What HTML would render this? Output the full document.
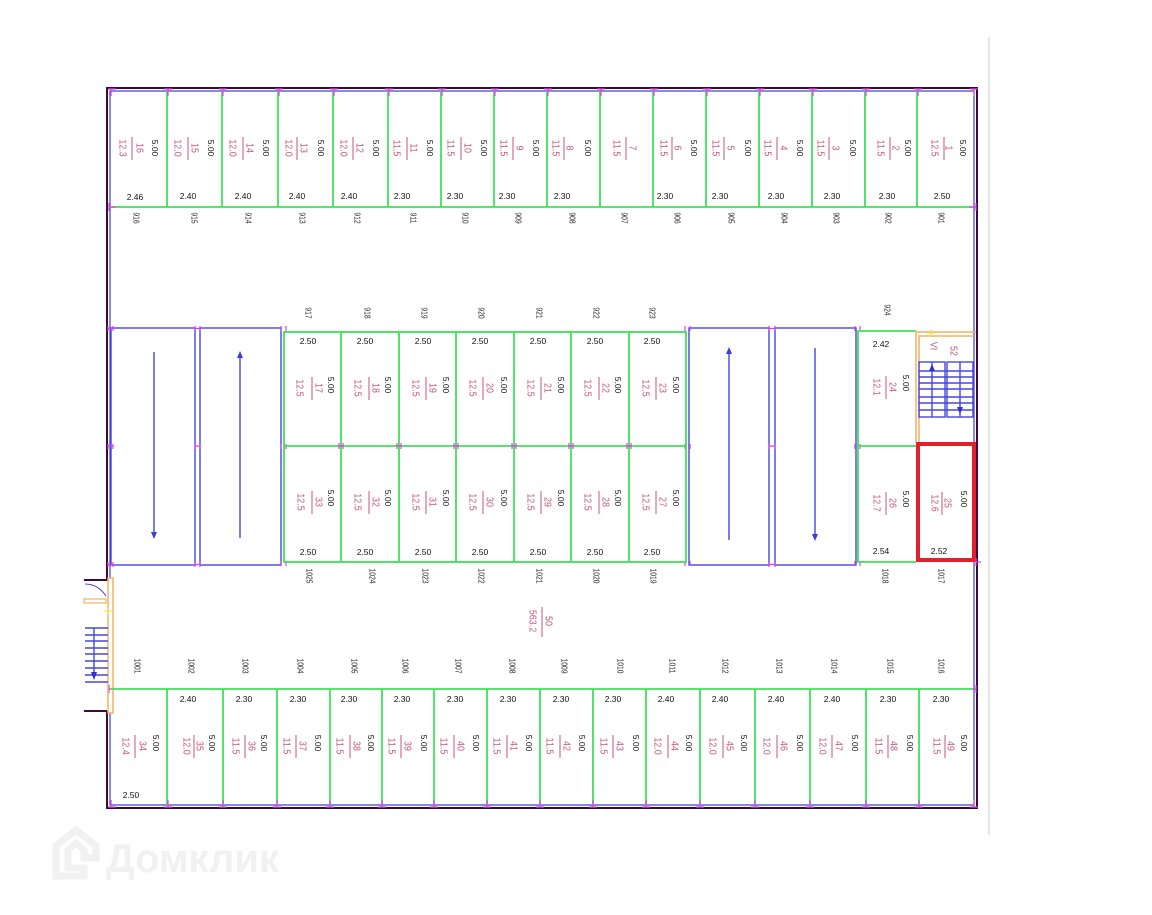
<!DOCTYPE html>
<html><head><meta charset="utf-8"><style>
html,body{margin:0;padding:0;background:#fff;}
svg{display:block;}
.r{fill:#c4557a;font-family:"Liberation Sans",sans-serif;font-size:10.5px;text-anchor:middle;dominant-baseline:central;}
.k{fill:#111;font-family:"Liberation Sans",sans-serif;font-size:8.5px;text-anchor:middle;dominant-baseline:central;}
.n{fill:#222;font-family:"Liberation Sans",sans-serif;font-size:8px;text-anchor:middle;dominant-baseline:central;}
.g{stroke:#3ee25a;stroke-width:1.8;fill:none;}
.b{stroke:#4646dc;stroke-width:1.4;fill:none;}
.m{stroke:#e040e0;stroke-width:1.2;fill:none;}
.o{stroke:#f2b060;stroke-width:1.5;fill:none;}
.rb{stroke:#c4557a;stroke-width:1;}
.wm{fill:#f1f1f1;font-family:"Liberation Sans",sans-serif;font-size:40px;font-weight:bold;}
</style></head><body>
<svg width="1152" height="915" viewBox="0 0 1152 915" xmlns="http://www.w3.org/2000/svg">
<rect x="0" y="0" width="1152" height="915" fill="#fff"/>

<!-- watermark -->
<path d="M56 876 V846 L76 830 L96 846 V858 H84 V850 L76 843 L68 850 V868 H84 V876 Z" fill="none" stroke="#f1f1f1" stroke-width="7"/>
<text class="wm" x="106" y="872">Домклик</text>

<!-- right gray line -->
<line x1="989" y1="37" x2="989" y2="835" stroke="#dcdcdc" stroke-width="1.5"/>

<!-- outer walls -->
<path d="M107 579 V88 H977 V808 H107 V711" fill="none" stroke="#3a0a3a" stroke-width="2"/>
<path d="M110 578 V91 H974 V805 H110 V713" fill="none" stroke="#4040d8" stroke-width="1.2"/>

<!-- top row -->
<line class="g" x1="111" y1="207" x2="973" y2="207"/>
<g class="g">
<line x1="167" y1="91" x2="167" y2="207"/><line x1="222" y1="91" x2="222" y2="207"/><line x1="278" y1="91" x2="278" y2="207"/><line x1="333" y1="91" x2="333" y2="207"/><line x1="388" y1="91" x2="388" y2="207"/><line x1="441" y1="91" x2="441" y2="207"/><line x1="494" y1="91" x2="494" y2="207"/><line x1="547" y1="91" x2="547" y2="207"/><line x1="600" y1="91" x2="600" y2="207"/><line x1="653" y1="91" x2="653" y2="207"/><line x1="706" y1="91" x2="706" y2="207"/><line x1="759" y1="91" x2="759" y2="207"/><line x1="812" y1="91" x2="812" y2="207"/><line x1="865" y1="91" x2="865" y2="207"/><line x1="917" y1="91" x2="917" y2="207"/>
</g>
<g class="m">
<path d="M108 89 H116 M111 89 V96"/><path d="M164 89 H172 M168 89 V96"/><path d="M219 89 H227 M223 89 V96"/><path d="M275 89 H283 M279 89 V96"/><path d="M330 89 H338 M334 89 V96"/><path d="M385 89 H393 M389 89 V96"/><path d="M438 89 H446 M442 89 V96"/><path d="M491 89 H499 M495 89 V96"/><path d="M544 89 H552 M548 89 V96"/><path d="M597 89 H605 M601 89 V96"/><path d="M650 89 H658 M654 89 V96"/><path d="M703 89 H711 M707 89 V96"/><path d="M756 89 H764 M760 89 V96"/><path d="M809 89 H817 M813 89 V96"/><path d="M862 89 H870 M866 89 V96"/><path d="M914 89 H922 M918 89 V96"/><path d="M970 89 H978 M974 89 V96"/>
<path d="M109 203 V211 M109 207 H116"/><path d="M976 203 V211 M976 207 H969"/>
</g>

<!-- top row labels -->
<g>
<text class="r" transform="translate(122,148) rotate(90) scale(.85,1)">12.3</text><line class="rb" x1="132" y1="137" x2="132" y2="160"/><text class="r" transform="translate(139,148) rotate(90) scale(.85,1)">16</text><text class="k" transform="translate(155,148) rotate(90)">5.00</text>
<text class="r" transform="translate(177,148) rotate(90) scale(.85,1)">12.0</text><line class="rb" x1="188" y1="137" x2="188" y2="160"/><text class="r" transform="translate(194,148) rotate(90) scale(.85,1)">15</text><text class="k" transform="translate(211,148) rotate(90)">5.00</text>
<text class="r" transform="translate(232,148) rotate(90) scale(.85,1)">12.0</text><line class="rb" x1="243" y1="137" x2="243" y2="160"/><text class="r" transform="translate(249,148) rotate(90) scale(.85,1)">14</text><text class="k" transform="translate(266,148) rotate(90)">5.00</text>
<text class="r" transform="translate(288,148) rotate(90) scale(.85,1)">12.0</text><line class="rb" x1="297" y1="137" x2="297" y2="160"/><text class="r" transform="translate(303,148) rotate(90) scale(.85,1)">13</text><text class="k" transform="translate(321,148) rotate(90)">5.00</text>
<text class="r" transform="translate(343,148) rotate(90) scale(.85,1)">12.0</text><line class="rb" x1="353" y1="137" x2="353" y2="160"/><text class="r" transform="translate(359,148) rotate(90) scale(.85,1)">12</text><text class="k" transform="translate(376,148) rotate(90)">5.00</text>
<text class="r" transform="translate(396,148) rotate(90) scale(.85,1)">11.5</text><line class="rb" x1="407" y1="137" x2="407" y2="160"/><text class="r" transform="translate(413,148) rotate(90) scale(.85,1)">11</text><text class="k" transform="translate(430,148) rotate(90)">5.00</text>
<text class="r" transform="translate(450,148) rotate(90) scale(.85,1)">11.5</text><line class="rb" x1="461" y1="137" x2="461" y2="160"/><text class="r" transform="translate(467,148) rotate(90) scale(.85,1)">10</text><text class="k" transform="translate(484,148) rotate(90)">5.00</text>
<text class="r" transform="translate(503,148) rotate(90) scale(.85,1)">11.5</text><line class="rb" x1="513" y1="137" x2="513" y2="160"/><text class="r" transform="translate(519,148) rotate(90) scale(.85,1)">9</text><text class="k" transform="translate(536,148) rotate(90)">5.00</text>
<text class="r" transform="translate(555,148) rotate(90) scale(.85,1)">11.5</text><line class="rb" x1="564" y1="137" x2="564" y2="160"/><text class="r" transform="translate(569,148) rotate(90) scale(.85,1)">8</text><text class="k" transform="translate(588,148) rotate(90)">5.00</text>
<text class="r" transform="translate(616,148) rotate(90) scale(.85,1)">11.5</text><line class="rb" x1="626" y1="137" x2="626" y2="160"/><text class="r" transform="translate(632,148) rotate(90) scale(.85,1)">7</text>
<text class="r" transform="translate(663,148) rotate(90) scale(.85,1)">11.5</text><line class="rb" x1="672" y1="137" x2="672" y2="160"/><text class="r" transform="translate(677,148) rotate(90) scale(.85,1)">6</text><text class="k" transform="translate(694,148) rotate(90)">5.00</text>
<text class="r" transform="translate(715,148) rotate(90) scale(.85,1)">11.5</text><line class="rb" x1="724" y1="137" x2="724" y2="160"/><text class="r" transform="translate(730,148) rotate(90) scale(.85,1)">5</text><text class="k" transform="translate(748,148) rotate(90)">5.00</text>
<text class="r" transform="translate(767,148) rotate(90) scale(.85,1)">11.5</text><line class="rb" x1="777" y1="137" x2="777" y2="160"/><text class="r" transform="translate(783,148) rotate(90) scale(.85,1)">4</text><text class="k" transform="translate(800,148) rotate(90)">5.00</text>
<text class="r" transform="translate(820,148) rotate(90) scale(.85,1)">11.5</text><line class="rb" x1="829" y1="137" x2="829" y2="160"/><text class="r" transform="translate(835,148) rotate(90) scale(.85,1)">3</text><text class="k" transform="translate(853,148) rotate(90)">5.00</text>
<text class="r" transform="translate(880,148) rotate(90) scale(.85,1)">11.5</text><line class="rb" x1="890" y1="137" x2="890" y2="160"/><text class="r" transform="translate(895,148) rotate(90) scale(.85,1)">2</text><text class="k" transform="translate(908,148) rotate(90)">5.00</text>
<text class="r" transform="translate(934,148) rotate(90) scale(.85,1)">12.5</text><line class="rb" x1="944" y1="137" x2="944" y2="160"/><text class="r" transform="translate(948,148) rotate(90) scale(.85,1)">1</text><text class="k" transform="translate(963,148) rotate(90)">5.00</text>
</g>
<g class="k">
<text x="135" y="197">2.46</text><text x="188" y="196">2.40</text><text x="243" y="196">2.40</text><text x="297" y="196">2.40</text><text x="349" y="196">2.40</text><text x="402" y="196">2.30</text><text x="455" y="196">2.30</text><text x="507" y="196">2.30</text><text x="562" y="196">2.30</text><text x="665" y="196">2.30</text><text x="720" y="196">2.30</text><text x="776" y="196">2.30</text><text x="832" y="196">2.30</text><text x="887" y="196">2.30</text><text x="942" y="196">2.50</text>
</g>
<g>
<text class="n" transform="translate(136,218) rotate(90) scale(.85,1)">916</text><text class="n" transform="translate(194,218) rotate(90) scale(.85,1)">915</text><text class="n" transform="translate(248,218) rotate(90) scale(.85,1)">914</text><text class="n" transform="translate(302,218) rotate(90) scale(.85,1)">913</text><text class="n" transform="translate(357,218) rotate(90) scale(.85,1)">912</text><text class="n" transform="translate(413,218) rotate(90) scale(.85,1)">911</text><text class="n" transform="translate(465,218) rotate(90) scale(.85,1)">910</text><text class="n" transform="translate(518,218) rotate(90) scale(.85,1)">909</text><text class="n" transform="translate(572,218) rotate(90) scale(.85,1)">908</text><text class="n" transform="translate(624,218) rotate(90) scale(.85,1)">907</text><text class="n" transform="translate(677,218) rotate(90) scale(.85,1)">906</text><text class="n" transform="translate(731,218) rotate(90) scale(.85,1)">905</text><text class="n" transform="translate(784,218) rotate(90) scale(.85,1)">904</text><text class="n" transform="translate(836,218) rotate(90) scale(.85,1)">903</text><text class="n" transform="translate(888,218) rotate(90) scale(.85,1)">902</text><text class="n" transform="translate(941,218) rotate(90) scale(.85,1)">901</text>
</g>

<!-- middle labels above/below -->
<g>
<text class="n" transform="translate(308,313) rotate(90) scale(.85,1)">917</text><text class="n" transform="translate(367,313) rotate(90) scale(.85,1)">918</text><text class="n" transform="translate(424,313) rotate(90) scale(.85,1)">919</text><text class="n" transform="translate(481,313) rotate(90) scale(.85,1)">920</text><text class="n" transform="translate(539,313) rotate(90) scale(.85,1)">921</text><text class="n" transform="translate(596,313) rotate(90) scale(.85,1)">922</text><text class="n" transform="translate(652,313) rotate(90) scale(.85,1)">923</text><text class="n" transform="translate(887,310) rotate(90) scale(.85,1)">924</text>
<text class="n" transform="translate(309,576) rotate(90) scale(.85,1)">1025</text><text class="n" transform="translate(372,576) rotate(90) scale(.85,1)">1024</text><text class="n" transform="translate(425,576) rotate(90) scale(.85,1)">1023</text><text class="n" transform="translate(481,576) rotate(90) scale(.85,1)">1022</text><text class="n" transform="translate(539,576) rotate(90) scale(.85,1)">1021</text><text class="n" transform="translate(596,576) rotate(90) scale(.85,1)">1020</text><text class="n" transform="translate(653,576) rotate(90) scale(.85,1)">1019</text><text class="n" transform="translate(885,576) rotate(90) scale(.85,1)">1018</text><text class="n" transform="translate(941,576) rotate(90) scale(.85,1)">1017</text>
</g>

<!-- ramps -->
<g class="b">
<rect x="111" y="328" width="84" height="237"/><rect x="200" y="328" width="81" height="237"/>
<rect x="689" y="328" width="80" height="237"/><rect x="775" y="328" width="81" height="237"/>
<line x1="154" y1="352" x2="154" y2="534"/><line x1="240" y1="356" x2="240" y2="538"/>
<line x1="729" y1="352" x2="729" y2="540"/><line x1="815" y1="348" x2="815" y2="536"/>
</g>
<g fill="#3c3cd8">
<path d="M151 532 L157 532 L154 539 Z"/><path d="M237 358 L243 358 L240 351 Z"/>
<path d="M726 354 L732 354 L729 347 Z"/><path d="M812 534 L818 534 L815 541 Z"/>
</g>
<g class="m">
<path d="M108 326 V331 M113 326 V331 M108 328.5 H113"/><path d="M108 444 V449 M113 444 V449 M108 446 H113"/><path d="M108 562 V567 M113 562 V567 M108 564.5 H113"/>
<path d="M195 326 V331 M200 326 V331 M195 328.5 H200"/><path d="M195 444 V449 M200 444 V449 M195 446 H200"/><path d="M195 562 V567 M200 562 V567 M195 564.5 H200"/>
<path d="M769 326 V331 M775 326 V331 M769 328.5 H775"/><path d="M769 444 V449 M775 444 V449 M769 446 H775"/><path d="M769 562 V567 M775 562 V567 M769 564.5 H775"/>
<path d="M281 326 V331 M286 326 V331"/><path d="M281 444 V449 M286 444 V449"/><path d="M281 561 V566 M286 561 V566"/>
<path d="M685 326 V331 M690 326 V331"/><path d="M685 444 V449 M690 444 V449"/><path d="M685 561 V566 M690 561 V566"/>
<path d="M855 326 V331 M860 326 V331"/><path d="M855 444 V449 M860 444 V449"/><path d="M855 561 V566 M860 561 V566"/>
</g>

<!-- middle parking block -->
<g class="g">
<rect x="284" y="332" width="402" height="230"/>
<line x1="284" y1="446" x2="686" y2="446"/>
<line x1="341" y1="332" x2="341" y2="562"/><line x1="399" y1="332" x2="399" y2="562"/><line x1="456" y1="332" x2="456" y2="562"/><line x1="514" y1="332" x2="514" y2="562"/><line x1="571" y1="332" x2="571" y2="562"/><line x1="629" y1="332" x2="629" y2="562"/>
</g>
<g class="m">
<path d="M339 443 V449 M343 443 V449 M339 446 H343"/><path d="M397 443 V449 M401 443 V449 M397 446 H401"/><path d="M454 443 V449 M458 443 V449 M454 446 H458"/><path d="M512 443 V449 M516 443 V449 M512 446 H516"/><path d="M569 443 V449 M573 443 V449 M569 446 H573"/><path d="M627 443 V449 M631 443 V449 M627 446 H631"/>
</g>
<g>
<text class="r" transform="translate(299,388) rotate(90) scale(.85,1)">12.5</text><line class="rb" x1="312" y1="377" x2="312" y2="400"/><text class="r" transform="translate(318,388) rotate(90) scale(.85,1)">17</text><text class="k" transform="translate(331,385) rotate(90)">5.00</text>
<text class="r" transform="translate(357,388) rotate(90) scale(.85,1)">12.5</text><line class="rb" x1="369" y1="377" x2="369" y2="400"/><text class="r" transform="translate(375,388) rotate(90) scale(.85,1)">18</text><text class="k" transform="translate(388,385) rotate(90)">5.00</text>
<text class="r" transform="translate(415,388) rotate(90) scale(.85,1)">12.5</text><line class="rb" x1="426" y1="377" x2="426" y2="400"/><text class="r" transform="translate(432,388) rotate(90) scale(.85,1)">19</text><text class="k" transform="translate(446,385) rotate(90)">5.00</text>
<text class="r" transform="translate(472,388) rotate(90) scale(.85,1)">12.5</text><line class="rb" x1="483" y1="377" x2="483" y2="400"/><text class="r" transform="translate(489,388) rotate(90) scale(.85,1)">20</text><text class="k" transform="translate(504,385) rotate(90)">5.00</text>
<text class="r" transform="translate(530,388) rotate(90) scale(.85,1)">12.5</text><line class="rb" x1="541" y1="377" x2="541" y2="400"/><text class="r" transform="translate(547,388) rotate(90) scale(.85,1)">21</text><text class="k" transform="translate(561,385) rotate(90)">5.00</text>
<text class="r" transform="translate(587,388) rotate(90) scale(.85,1)">12.5</text><line class="rb" x1="599" y1="377" x2="599" y2="400"/><text class="r" transform="translate(605,388) rotate(90) scale(.85,1)">22</text><text class="k" transform="translate(618,385) rotate(90)">5.00</text>
<text class="r" transform="translate(645,388) rotate(90) scale(.85,1)">12.5</text><line class="rb" x1="656" y1="377" x2="656" y2="400"/><text class="r" transform="translate(662,388) rotate(90) scale(.85,1)">23</text><text class="k" transform="translate(676,385) rotate(90)">5.00</text>

<text class="r" transform="translate(300,502) rotate(90) scale(.85,1)">12.5</text><line class="rb" x1="312" y1="491" x2="312" y2="514"/><text class="r" transform="translate(318,502) rotate(90) scale(.85,1)">33</text><text class="k" transform="translate(331,498) rotate(90)">5.00</text>
<text class="r" transform="translate(357,502) rotate(90) scale(.85,1)">12.5</text><line class="rb" x1="369" y1="491" x2="369" y2="514"/><text class="r" transform="translate(375,502) rotate(90) scale(.85,1)">32</text><text class="k" transform="translate(388,498) rotate(90)">5.00</text>
<text class="r" transform="translate(415,502) rotate(90) scale(.85,1)">12.5</text><line class="rb" x1="426" y1="491" x2="426" y2="514"/><text class="r" transform="translate(432,502) rotate(90) scale(.85,1)">31</text><text class="k" transform="translate(446,498) rotate(90)">5.00</text>
<text class="r" transform="translate(472,502) rotate(90) scale(.85,1)">12.5</text><line class="rb" x1="483" y1="491" x2="483" y2="514"/><text class="r" transform="translate(489,502) rotate(90) scale(.85,1)">30</text><text class="k" transform="translate(504,498) rotate(90)">5.00</text>
<text class="r" transform="translate(530,502) rotate(90) scale(.85,1)">12.5</text><line class="rb" x1="541" y1="491" x2="541" y2="514"/><text class="r" transform="translate(547,502) rotate(90) scale(.85,1)">29</text><text class="k" transform="translate(561,498) rotate(90)">5.00</text>
<text class="r" transform="translate(587,502) rotate(90) scale(.85,1)">12.5</text><line class="rb" x1="599" y1="491" x2="599" y2="514"/><text class="r" transform="translate(605,502) rotate(90) scale(.85,1)">28</text><text class="k" transform="translate(618,498) rotate(90)">5.00</text>
<text class="r" transform="translate(645,502) rotate(90) scale(.85,1)">12.5</text><line class="rb" x1="656" y1="491" x2="656" y2="514"/><text class="r" transform="translate(662,502) rotate(90) scale(.85,1)">27</text><text class="k" transform="translate(676,498) rotate(90)">5.00</text>
</g>
<g class="k">
<text x="308" y="341">2.50</text><text x="365" y="341">2.50</text><text x="423" y="341">2.50</text><text x="480" y="341">2.50</text><text x="538" y="341">2.50</text><text x="595" y="341">2.50</text><text x="652" y="341">2.50</text>
<text x="308" y="552">2.50</text><text x="365" y="552">2.50</text><text x="423" y="552">2.50</text><text x="480" y="552">2.50</text><text x="538" y="552">2.50</text><text x="595" y="552">2.50</text><text x="652" y="552">2.50</text>
</g>

<!-- right block -->
<g class="g">
<path d="M916 331 H858 V562 H916"/>
<line x1="858" y1="446" x2="916" y2="446"/>
</g>
<g class="o">
<path d="M916 443 V332 H976"/><path d="M919 443 V336 H974"/>
</g>
<path d="M927 333 H935 M931 329 V337" stroke="#f0e040" stroke-width="1"/>
<g class="b" stroke-width="1.1">
<rect x="919" y="362" width="26" height="55"/><rect x="947" y="362" width="26" height="55"/>
<path d="M919 371 H973 M919 377 H973 M919 383 H973 M919 389 H973 M919 397 H973 M919 403 H973 M919 410 H973"/>
<line x1="932" y1="362" x2="932" y2="417"/><line x1="960" y1="362" x2="960" y2="417"/>
</g>
<g fill="#3030d0"><path d="M929 371 L935 371 L932 364 Z"/><path d="M957 407 L963 407 L960 414 Z"/></g>
<text class="r" transform="translate(933,346) rotate(90) scale(.85,1)">VI</text>
<text class="r" transform="translate(953,351) rotate(90) scale(.85,1)">52</text>
<rect x="918" y="444" width="56" height="116" fill="none" stroke="#e0202a" stroke-width="4"/>
<g>
<text class="k" transform="translate(881,344)">2.42</text>
<text class="r" transform="translate(876,387) rotate(90) scale(.85,1)">12.1</text><line class="rb" x1="886" y1="376" x2="886" y2="399"/><text class="r" transform="translate(892,387) rotate(90) scale(.85,1)">24</text><text class="k" transform="translate(906,383) rotate(90)">5.00</text>
<text class="r" transform="translate(876,503) rotate(90) scale(.85,1)">12.7</text><line class="rb" x1="886" y1="492" x2="886" y2="515"/><text class="r" transform="translate(892,503) rotate(90) scale(.85,1)">26</text><text class="k" transform="translate(906,499) rotate(90)">5.00</text>
<text class="k" transform="translate(881,551)">2.54</text>
<text class="r" transform="translate(934,503) rotate(90) scale(.85,1)">12.6</text><line class="rb" x1="942" y1="492" x2="942" y2="515"/><text class="r" transform="translate(947,503) rotate(90) scale(.85,1)">25</text><text class="k" transform="translate(964,499) rotate(90)">5.00</text>
<text class="k" transform="translate(939,551)">2.52</text>
</g>
<g class="m"><path d="M976 558 V566 M976 562 H981"/><path d="M976 685 V693 M976 689 H969"/><path d="M109 685 V693 M109 689 H116"/></g>

<!-- central area label -->
<text class="r" transform="translate(532,621) rotate(90) scale(.85,1)">563.2</text>
<line class="rb" x1="542" y1="607" x2="542" y2="637"/>
<text class="r" transform="translate(548,621) rotate(90) scale(.85,1)">50</text>

<!-- left stair -->
<line x1="84" y1="580" x2="108" y2="580" stroke="#3a0a3a" stroke-width="2"/>
<line x1="84" y1="711" x2="107" y2="711" stroke="#3a0a3a" stroke-width="2"/>
<rect x="108" y="578" width="5" height="135" fill="none" stroke="#f2b060" stroke-width="1.5"/>
<rect x="84" y="599" width="22" height="4" fill="none" stroke="#f2b060" stroke-width="1.2"/>
<path d="M85 584 Q98 584 106 596" fill="none" stroke="#4040d8" stroke-width="1"/>
<path d="M104 611 H112 M108 607 V615" stroke="#f0e040" stroke-width="1"/>
<g class="b" stroke-width="1.1">
<path d="M85 628 H108 M85 635 H108 M85 641 H108 M85 648 H108 M85 654 H108 M85 661 H108 M85 668 H108 M85 675 H108 M85 682 H108"/>
<line x1="94" y1="628" x2="94" y2="674"/>
</g>
<path d="M91 672 L97 672 L94 680 Z" fill="#3030d0"/>

<!-- bottom labels row -->
<g>
<text class="n" transform="translate(137,666) rotate(90) scale(.85,1)">1001</text><text class="n" transform="translate(191,666) rotate(90) scale(.85,1)">1002</text><text class="n" transform="translate(245,666) rotate(90) scale(.85,1)">1003</text><text class="n" transform="translate(300,666) rotate(90) scale(.85,1)">1004</text><text class="n" transform="translate(354,666) rotate(90) scale(.85,1)">1005</text><text class="n" transform="translate(405,666) rotate(90) scale(.85,1)">1006</text><text class="n" transform="translate(458,666) rotate(90) scale(.85,1)">1007</text><text class="n" transform="translate(512,666) rotate(90) scale(.85,1)">1008</text><text class="n" transform="translate(564,666) rotate(90) scale(.85,1)">1009</text><text class="n" transform="translate(620,666) rotate(90) scale(.85,1)">1010</text><text class="n" transform="translate(672,666) rotate(90) scale(.85,1)">1011</text><text class="n" transform="translate(725,666) rotate(90) scale(.85,1)">1012</text><text class="n" transform="translate(779,666) rotate(90) scale(.85,1)">1013</text><text class="n" transform="translate(834,666) rotate(90) scale(.85,1)">1014</text><text class="n" transform="translate(890,666) rotate(90) scale(.85,1)">1015</text><text class="n" transform="translate(941,666) rotate(90) scale(.85,1)">1016</text>
</g>

<!-- bottom row -->
<line class="g" x1="111" y1="689" x2="973" y2="689"/>
<g class="g">
<line x1="167" y1="689" x2="167" y2="805"/><line x1="223" y1="689" x2="223" y2="805"/><line x1="277" y1="689" x2="277" y2="805"/><line x1="330" y1="689" x2="330" y2="805"/><line x1="382" y1="689" x2="382" y2="805"/><line x1="434" y1="689" x2="434" y2="805"/><line x1="487" y1="689" x2="487" y2="805"/><line x1="540" y1="689" x2="540" y2="805"/><line x1="593" y1="689" x2="593" y2="805"/><line x1="646" y1="689" x2="646" y2="805"/><line x1="700" y1="689" x2="700" y2="805"/><line x1="755" y1="689" x2="755" y2="805"/><line x1="810" y1="689" x2="810" y2="805"/><line x1="866" y1="689" x2="866" y2="805"/><line x1="919" y1="689" x2="919" y2="805"/>
</g>
<g class="m">
<path d="M108 807 H116 M111 807 V800"/><path d="M164 807 H172 M168 807 V800"/><path d="M219 807 H227 M223 807 V800"/><path d="M273 807 H281 M277 807 V800"/><path d="M326 807 H334 M330 807 V800"/><path d="M378 807 H386 M382 807 V800"/><path d="M430 807 H438 M434 807 V800"/><path d="M483 807 H491 M487 807 V800"/><path d="M536 807 H544 M540 807 V800"/><path d="M589 807 H597 M593 807 V800"/><path d="M642 807 H650 M646 807 V800"/><path d="M696 807 H704 M700 807 V800"/><path d="M751 807 H759 M755 807 V800"/><path d="M806 807 H814 M810 807 V800"/><path d="M862 807 H870 M866 807 V800"/><path d="M915 807 H923 M919 807 V800"/><path d="M970 807 H978 M974 807 V800"/>
</g>
<g>
<text class="r" transform="translate(125,746) rotate(90) scale(.85,1)">12.4</text><line class="rb" x1="135" y1="735" x2="135" y2="758"/><text class="r" transform="translate(142,746) rotate(90) scale(.85,1)">34</text><text class="k" transform="translate(156,743) rotate(90)">5.00</text>
<text class="r" transform="translate(186,746) rotate(90) scale(.85,1)">12.0</text><line class="rb" x1="194" y1="735" x2="194" y2="758"/><text class="r" transform="translate(199,746) rotate(90) scale(.85,1)">35</text><text class="k" transform="translate(212,743) rotate(90)">5.00</text>
<text class="r" transform="translate(235,746) rotate(90) scale(.85,1)">11.5</text><line class="rb" x1="245" y1="735" x2="245" y2="758"/><text class="r" transform="translate(251,746) rotate(90) scale(.85,1)">36</text><text class="k" transform="translate(264,743) rotate(90)">5.00</text>
<text class="r" transform="translate(286,746) rotate(90) scale(.85,1)">11.5</text><line class="rb" x1="296" y1="735" x2="296" y2="758"/><text class="r" transform="translate(302,746) rotate(90) scale(.85,1)">37</text><text class="k" transform="translate(318,743) rotate(90)">5.00</text>
<text class="r" transform="translate(339,746) rotate(90) scale(.85,1)">11.5</text><line class="rb" x1="350" y1="735" x2="350" y2="758"/><text class="r" transform="translate(356,746) rotate(90) scale(.85,1)">38</text><text class="k" transform="translate(371,743) rotate(90)">5.00</text>
<text class="r" transform="translate(391,746) rotate(90) scale(.85,1)">11.5</text><line class="rb" x1="401" y1="735" x2="401" y2="758"/><text class="r" transform="translate(407,746) rotate(90) scale(.85,1)">39</text><text class="k" transform="translate(424,743) rotate(90)">5.00</text>
<text class="r" transform="translate(443,746) rotate(90) scale(.85,1)">11.5</text><line class="rb" x1="454" y1="735" x2="454" y2="758"/><text class="r" transform="translate(460,746) rotate(90) scale(.85,1)">40</text><text class="k" transform="translate(476,743) rotate(90)">5.00</text>
<text class="r" transform="translate(496,746) rotate(90) scale(.85,1)">11.5</text><line class="rb" x1="507" y1="735" x2="507" y2="758"/><text class="r" transform="translate(513,746) rotate(90) scale(.85,1)">41</text><text class="k" transform="translate(529,743) rotate(90)">5.00</text>
<text class="r" transform="translate(549,746) rotate(90) scale(.85,1)">11.5</text><line class="rb" x1="560" y1="735" x2="560" y2="758"/><text class="r" transform="translate(566,746) rotate(90) scale(.85,1)">42</text><text class="k" transform="translate(582,743) rotate(90)">5.00</text>
<text class="r" transform="translate(603,746) rotate(90) scale(.85,1)">11.5</text><line class="rb" x1="613" y1="735" x2="613" y2="758"/><text class="r" transform="translate(619,746) rotate(90) scale(.85,1)">43</text><text class="k" transform="translate(636,743) rotate(90)">5.00</text>
<text class="r" transform="translate(657,746) rotate(90) scale(.85,1)">12.0</text><line class="rb" x1="668" y1="735" x2="668" y2="758"/><text class="r" transform="translate(674,746) rotate(90) scale(.85,1)">44</text><text class="k" transform="translate(689,743) rotate(90)">5.00</text>
<text class="r" transform="translate(712,746) rotate(90) scale(.85,1)">12.0</text><line class="rb" x1="723" y1="735" x2="723" y2="758"/><text class="r" transform="translate(729,746) rotate(90) scale(.85,1)">45</text><text class="k" transform="translate(744,743) rotate(90)">5.00</text>
<text class="r" transform="translate(766,746) rotate(90) scale(.85,1)">12.0</text><line class="rb" x1="777" y1="735" x2="777" y2="758"/><text class="r" transform="translate(783,746) rotate(90) scale(.85,1)">46</text><text class="k" transform="translate(800,743) rotate(90)">5.00</text>
<text class="r" transform="translate(822,746) rotate(90) scale(.85,1)">12.0</text><line class="rb" x1="832" y1="735" x2="832" y2="758"/><text class="r" transform="translate(838,746) rotate(90) scale(.85,1)">47</text><text class="k" transform="translate(855,743) rotate(90)">5.00</text>
<text class="r" transform="translate(878,746) rotate(90) scale(.85,1)">11.5</text><line class="rb" x1="888" y1="735" x2="888" y2="758"/><text class="r" transform="translate(893,746) rotate(90) scale(.85,1)">48</text><text class="k" transform="translate(910,743) rotate(90)">5.00</text>
<text class="r" transform="translate(936,746) rotate(90) scale(.85,1)">11.5</text><line class="rb" x1="945" y1="735" x2="945" y2="758"/><text class="r" transform="translate(950,746) rotate(90) scale(.85,1)">49</text><text class="k" transform="translate(964,743) rotate(90)">5.00</text>
</g>
<g class="k">
<text x="131" y="795">2.50</text>
<text x="188" y="699">2.40</text><text x="244" y="699">2.30</text><text x="298" y="699">2.30</text><text x="349" y="699">2.30</text><text x="402" y="699">2.30</text><text x="455" y="699">2.30</text><text x="508" y="699">2.30</text><text x="561" y="699">2.30</text><text x="613" y="699">2.30</text><text x="666" y="699">2.40</text><text x="720" y="699">2.40</text><text x="776" y="699">2.40</text><text x="832" y="699">2.40</text><text x="888" y="699">2.30</text><text x="941" y="699">2.30</text>
</g>
</svg>
</body></html>
